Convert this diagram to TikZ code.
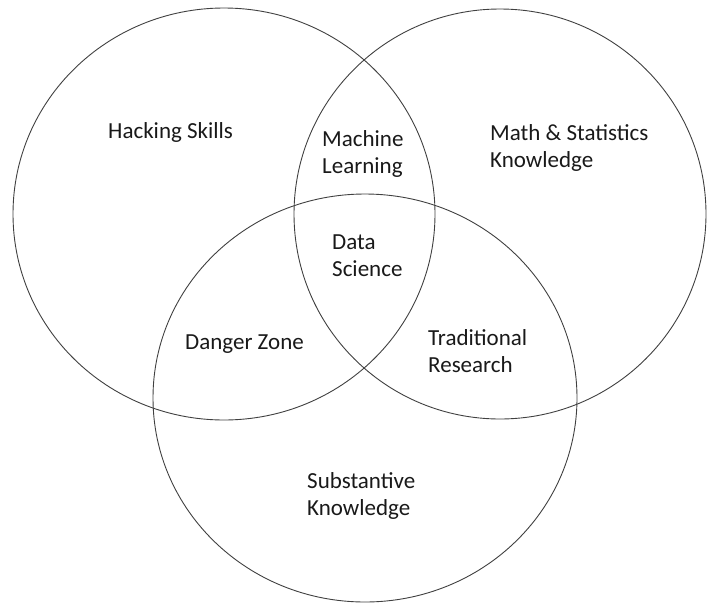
\documentclass[tikz,border=0pt]{standalone}
\usepackage{fontspec}
\setmainfont{Carlito}
\usetikzlibrary{shapes.geometric}
\begin{document}
\begin{tikzpicture}[x=1pt, y=-1pt, font=\fontsize{23}{27}\selectfont]

\tikzset{
  set/.style={draw=black!75, line width=0.9pt, ellipse, inner sep=0pt},
  region/.style={align=left, anchor=west, text=black!90, inner sep=0pt}
}

\useasboundingbox (0,0) rectangle (707,603);

% Sets
\node[set, minimum width=422pt, minimum height=412pt] (hack) at (224,214) {};
\node[set, minimum width=412pt, minimum height=410pt] (math) at (500,214) {};
\node[set, minimum width=424pt, minimum height=408pt] (subst) at (365,398) {};

% Outer regions
\node[region] (hacklbl)  at (108,132) {Hacking Skills};
\node[region] (mathlbl)  at (490,148) {Math \& Statistics\\Knowledge};
\node[region] (substlbl) at (307,496) {Substantive\\Knowledge};

% Overlaps
\node[region] (ml)     at (322,154) {Machine\\Learning};
\node[region] (danger) at (185,344) {Danger Zone};
\node[region] (trad)   at (428,351) {Traditional\\Research};

% Centre
\node[region] (ds) at (332,256) {Data\\Science};

\end{tikzpicture}
\end{document}
